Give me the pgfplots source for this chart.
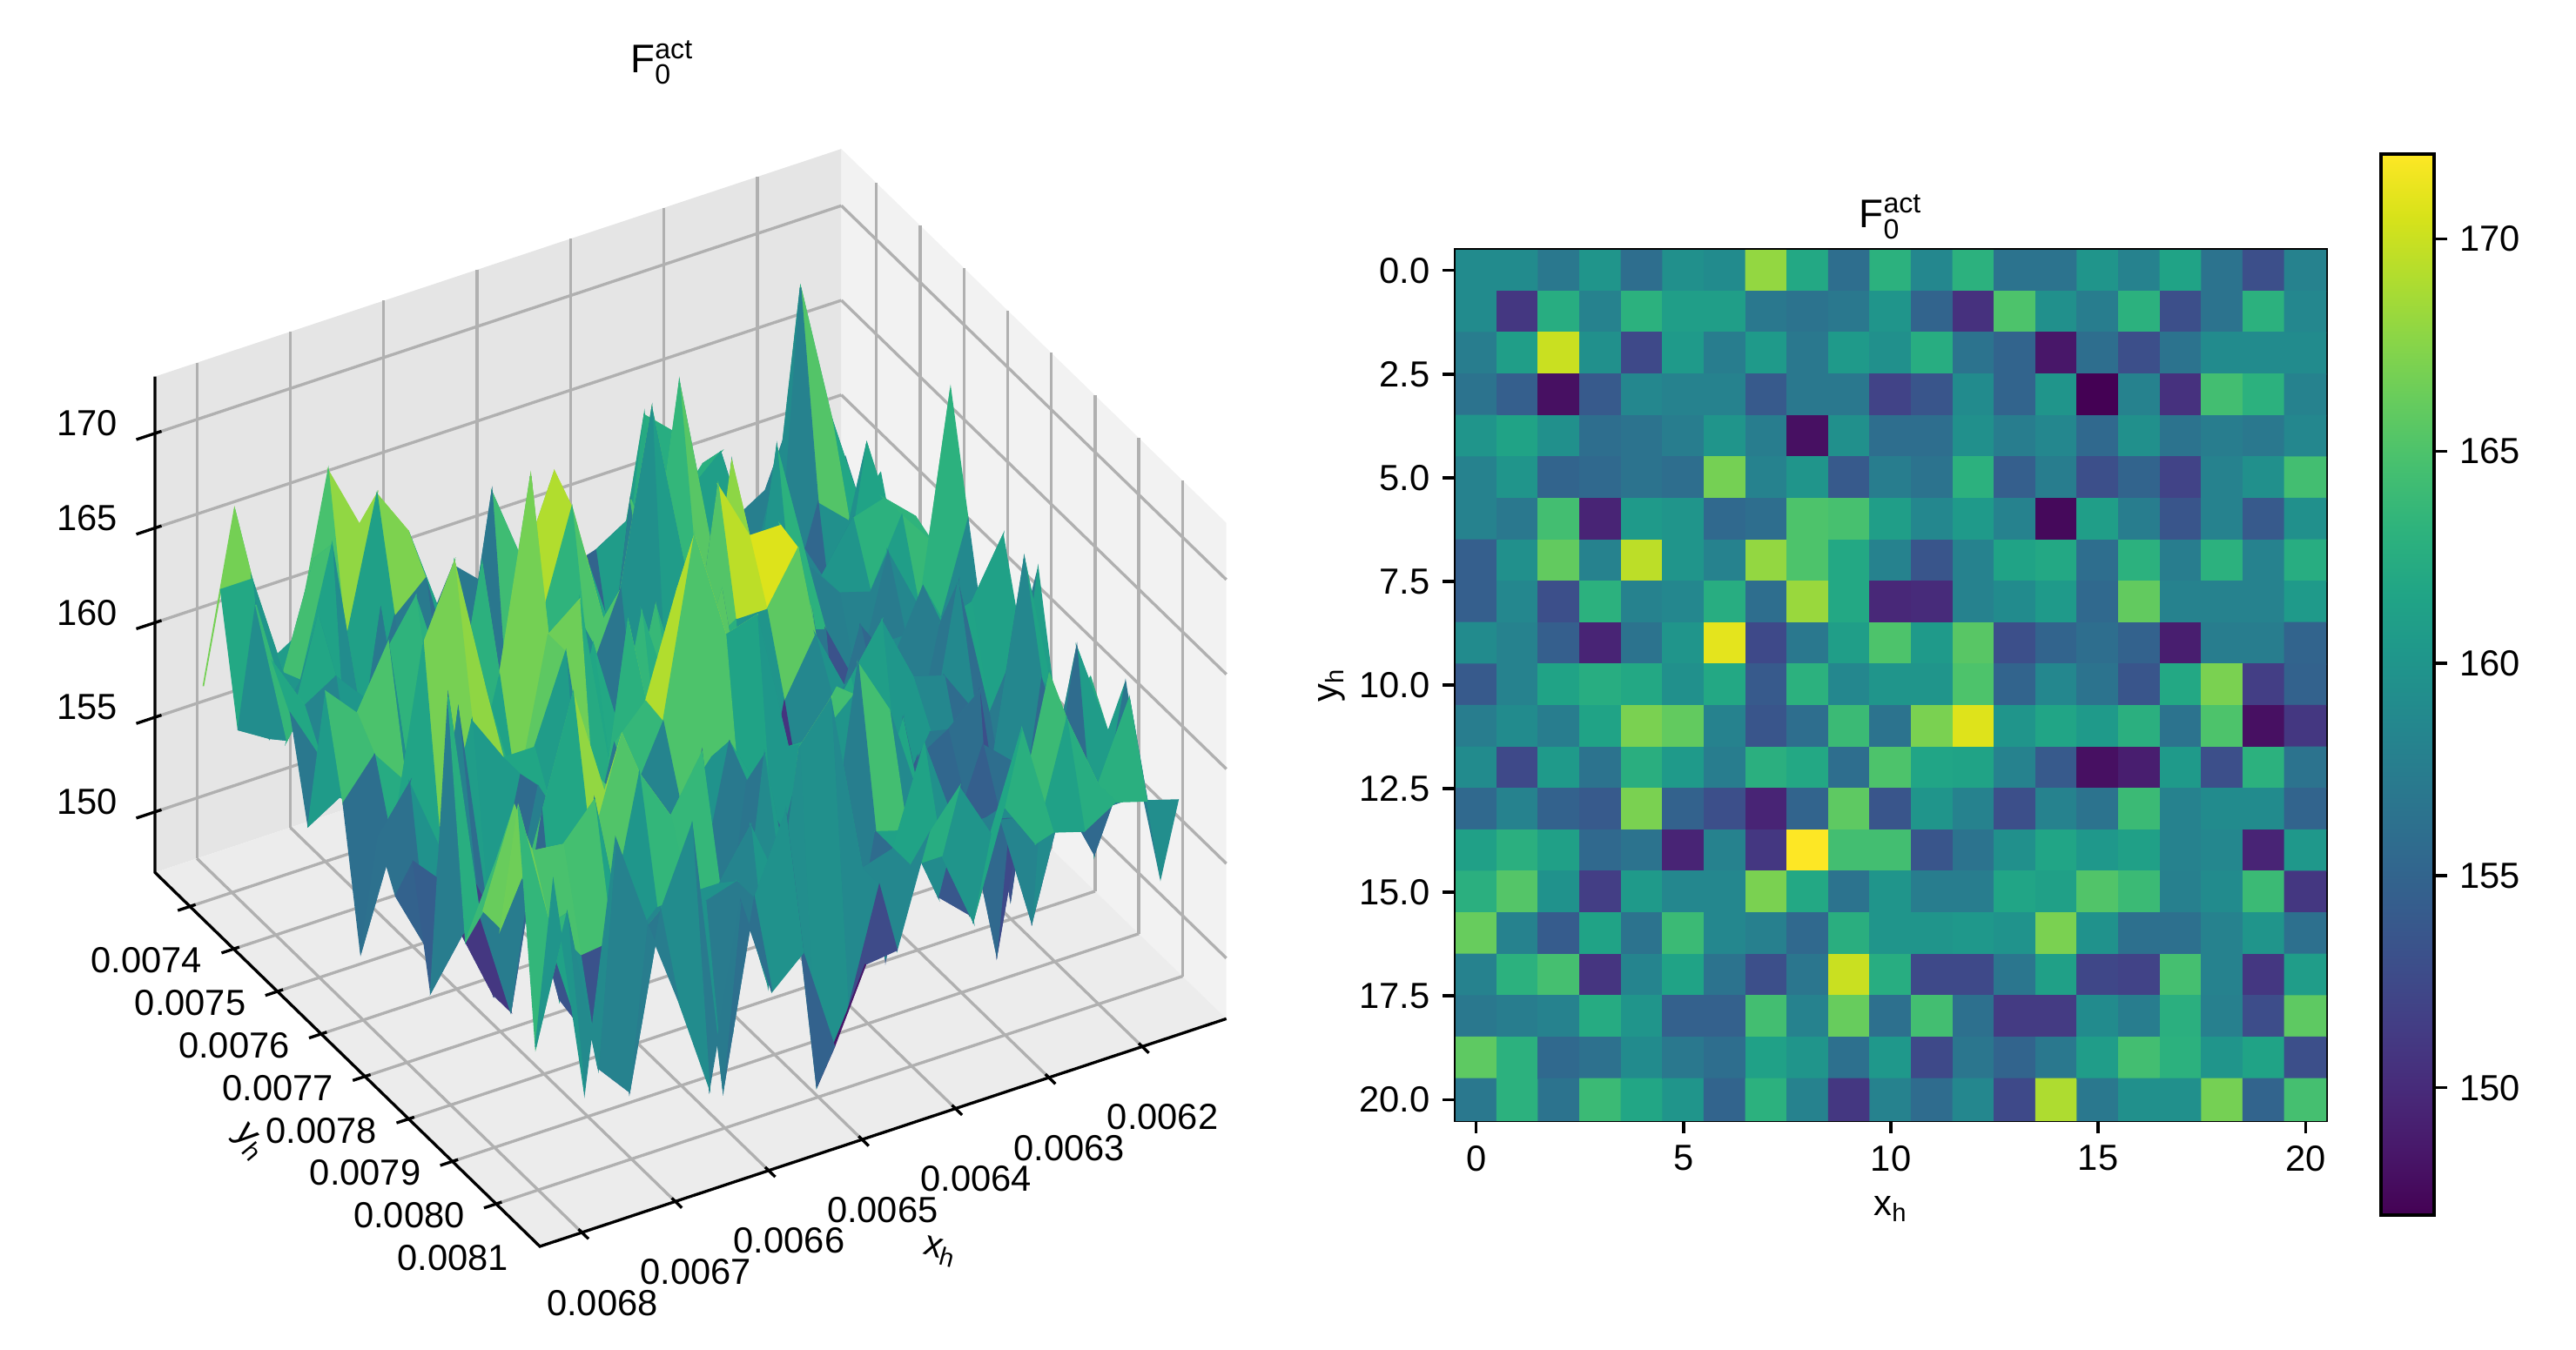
\documentclass[border=0pt]{standalone}
\usepackage{fontspec}
\setmainfont{Liberation Sans}
\setmathrm{Liberation Sans}
\usepackage{pgfplots}
\usepackage{pgfplotstable}
\pgfplotsset{compat=1.18}
\pgfplotstableread{
r c z
0 0 159
0 1 159
0 2 157
0 3 160
0 4 156
0 5 159.5
0 6 159
0 7 168
0 8 162
0 9 156
0 10 163
0 11 158.5
0 12 163
0 13 156.5
0 14 156.5
0 15 160
0 16 158
0 17 161.5
0 18 156.5
0 19 153
0 20 158
1 0 159
1 1 151
1 2 162.5
1 3 158
1 4 163
1 5 161
1 6 161
1 7 157
1 8 156.5
1 9 157
1 10 160
1 11 155
1 12 150.5
1 13 165
1 14 159.5
1 15 157.5
1 16 163
1 17 153
1 18 156.5
1 19 163
1 20 158.5
2 0 157.5
2 1 161
2 2 170
2 3 159.5
2 4 152.5
2 5 160.5
2 6 157.5
2 7 160.5
2 8 157
2 9 160.5
2 10 159.5
2 11 162.5
2 12 156.5
2 13 155
2 14 148.5
2 15 156
2 16 153
2 17 156.5
2 18 159
2 19 159
2 20 159
3 0 156.5
3 1 154.5
3 2 148
3 3 154
3 4 158.5
3 5 158
3 6 158
3 7 154
3 8 157
3 9 157
3 10 152
3 11 153.5
3 12 159
3 13 155
3 14 160
3 15 147
3 16 158
3 17 150.5
3 18 164.5
3 19 163
3 20 158
4 0 160
4 1 161.5
4 2 159.5
4 3 156
4 4 156.5
4 5 157.5
4 6 160
4 7 157.5
4 8 148
4 9 159.5
4 10 156
4 11 156
4 12 159.5
4 13 157.5
4 14 158.5
4 15 155.5
4 16 159.5
4 17 156.5
4 18 157.5
4 19 157
4 20 158.5
5 0 158
5 1 160
5 2 155
5 3 155.5
5 4 156.5
5 5 156
5 6 166.8
5 7 158
5 8 160
5 9 154
5 10 157.5
5 11 156.5
5 12 163
5 13 154.5
5 14 157.5
5 15 153
5 16 155
5 17 152
5 18 158
5 19 159.5
5 20 164.5
6 0 158
6 1 157
6 2 164.5
6 3 149.5
6 4 160.5
6 5 160
6 6 155.5
6 7 156
6 8 165
6 9 164.7
6 10 161
6 11 158.5
6 12 160.5
6 13 158
6 14 147.5
6 15 161
6 16 157.5
6 17 153.5
6 18 158
6 19 154
6 20 159.5
7 0 154.5
7 1 159.5
7 2 166
7 3 158
7 4 169.5
7 5 160
7 6 158
7 7 168
7 8 165
7 9 162
7 10 158
7 11 153.5
7 12 158
7 13 161.5
7 14 162
7 15 156
7 16 163
7 17 157.5
7 18 163
7 19 158
7 20 162.5
8 0 154.5
8 1 158.5
8 2 153
8 3 163
8 4 158
8 5 158.5
8 6 162.5
8 7 156
8 8 168.2
8 9 162
8 10 149.8
8 11 150
8 12 158
8 13 159
8 14 160.5
8 15 155.5
8 16 166
8 17 158
8 18 158
8 19 158
8 20 160.5
9 0 159
9 1 158
9 2 154.5
9 3 149.5
9 4 156.5
9 5 160
9 6 171
9 7 152.5
9 8 157
9 9 161
9 10 165
9 11 160.5
9 12 165.5
9 13 153
9 14 155
9 15 156
9 16 154.8
9 17 149
9 18 157.5
9 19 157.5
9 20 155
10 0 154
10 1 158
10 2 161.5
10 3 162.5
10 4 162
10 5 159.5
10 6 162
10 7 154
10 8 163
10 9 158.5
10 10 160
10 11 160
10 12 165
10 13 155
10 14 158.5
10 15 156.5
10 16 153.5
10 17 162
10 18 167
10 19 151.5
10 20 154.8
11 0 157.5
11 1 159
11 2 157.5
11 3 161.5
11 4 167
11 5 166
11 6 158
11 7 153.5
11 8 156
11 9 164
11 10 156.5
11 11 167
11 12 170.8
11 13 160
11 14 161.7
11 15 160.5
11 16 162.8
11 17 156.5
11 18 165
11 19 148
11 20 151
12 0 159
12 1 152.5
12 2 160.5
12 3 156.5
12 4 162.7
12 5 160.5
12 6 157.5
12 7 162.8
12 8 162
12 9 156
12 10 165
12 11 161.7
12 12 161.5
12 13 158
12 14 154
12 15 148
12 16 149
12 17 160.5
12 18 153
12 19 163
12 20 156.5
13 0 155.5
13 1 158
13 2 154.8
13 3 154
13 4 167
13 5 154.8
13 6 153
13 7 149.5
13 8 155
13 9 165.8
13 10 153.5
13 11 160
13 12 158
13 13 153
13 14 158
13 15 156.5
13 16 164
13 17 158
13 18 159
13 19 159
13 20 155
14 0 161.2
14 1 162.8
14 2 161.2
14 3 155.5
14 4 156.5
14 5 149.5
14 6 158
14 7 151
14 8 172
14 9 164.5
14 10 164.5
14 11 153.5
14 12 156.5
14 13 159.5
14 14 161.7
14 15 160.3
14 16 161.2
14 17 158
14 18 158.5
14 19 149.5
14 20 160.3
15 0 162.8
15 1 165.3
15 2 159.7
15 3 151.5
15 4 160.5
15 5 158.5
15 6 158.5
15 7 167
15 8 162
15 9 156.5
15 10 160
15 11 157.5
15 12 157.5
15 13 161.7
15 14 161.2
15 15 165.2
15 16 164
15 17 157.8
15 18 159
15 19 164
15 20 151
16 0 166.2
16 1 158
16 2 154.2
16 3 161.5
16 4 156.5
16 5 164
16 6 158.5
16 7 157.8
16 8 155.5
16 9 162.7
16 10 160
16 11 160
16 12 160.3
16 13 159.8
16 14 167
16 15 159.7
16 16 156.2
16 17 156.2
16 18 158
16 19 160
16 20 156.2
17 0 158
17 1 163
17 2 164.6
17 3 150.8
17 4 158.2
17 5 161.5
17 6 156.5
17 7 153
17 8 156.8
17 9 170
17 10 162.5
17 11 152.5
17 12 152.5
17 13 156.8
17 14 161.2
17 15 152.3
17 16 152
17 17 164.6
17 18 158
17 19 151
17 20 160.8
18 0 157
18 1 157.5
18 2 158
18 3 162.3
18 4 160
18 5 154.7
18 6 154.7
18 7 164.5
18 8 158
18 9 166.2
18 10 156.2
18 11 164.5
18 12 156.2
18 13 151.3
18 14 151.3
18 15 159
18 16 157.5
18 17 162.8
18 18 157.8
18 19 152.8
18 20 165.8
19 0 165.8
19 1 163
19 2 155.5
19 3 156.3
19 4 159
19 5 157
19 6 156
19 7 161.3
19 8 160
19 9 156.2
19 10 160.3
19 11 152.5
19 12 156.8
19 13 155
19 14 157
19 15 160.8
19 16 164.5
19 17 163
19 18 160
19 19 161.5
19 20 153
20 0 157
20 1 163
20 2 156.5
20 3 164
20 4 161.8
20 5 160
20 6 155
20 7 163
20 8 158
20 9 151
20 10 158
20 11 155.8
20 12 158.5
20 13 152.5
20 14 169
20 15 157
20 16 159.5
20 17 159.5
20 18 166.8
20 19 155
20 20 164.6
}\Fdata
\pgfplotsset{
  common/.style={
    /pgf/number format/assume math mode=true,
    tick label style={font=\fontsize{10}{12}\selectfont},
    label style={font=\fontsize{10}{12}\selectfont},
    title style={font=\fontsize{11}{13}\selectfont},
    major tick length=3.5pt,
    every tick/.style={black,line width=0.8pt},
    tick align=outside,
    colormap/viridis,
  }
}
\def\Xa{0.00611}\def\Xb{0.006845}\def\Ya{0.00732}\def\Yb{0.0082}\def\Za{146.8}\def\Zb{173}
\begin{document}
\begin{tikzpicture}
\path (0,0) rectangle (710.16pt,372.24pt);
% 3D surface
\begin{axis}[common,
  set layers,
  at={(42.72pt,28.56pt)},anchor=south west,
  scale only axis,width=296.4pt,height=303.4pt,
  view={149.7}{34.6},
  plot box ratio={219.6}{211.7}{166.2},
  xmin=\Xa,xmax=\Xb,ymin=\Ya,ymax=\Yb,zmin=\Za,zmax=\Zb,
  xtick={0.0062,0.0063,0.0064,0.0065,0.0066,0.0067,0.0068},
  ytick={0.0074,0.0075,0.0076,0.0077,0.0078,0.0079,0.008,0.0081},
  ztick={150,155,160,165,170},
  scaled x ticks=false,scaled y ticks=false,
  xticklabel style={/pgf/number format/fixed,/pgf/number format/precision=4,/pgf/number format/zerofill,xshift=0.7pt,yshift=-7.7pt},
  yticklabel style={/pgf/number format/fixed,/pgf/number format/precision=4,/pgf/number format/zerofill,xshift=-1.2pt},
  zticklabel style={xshift=-6.8pt,yshift=0pt},
  xtick pos=lower,ytick pos=lower,ztick pos=lower,
  major tick length=0pt,
  grid=major,
  grid style={color=black!31,line width=0.8pt},
  axis line style={draw=none},
  clip=false,
  point meta min=152,point meta max=164.5,
]
\begin{pgfonlayer}{axis background}
\fill[black!5] (axis cs:\Xa,\Ya,\Za)--(axis cs:\Xa,\Yb,\Za)--(axis cs:\Xa,\Yb,\Zb)--(axis cs:\Xa,\Ya,\Zb)--cycle;
\fill[black!10] (axis cs:\Xa,\Ya,\Za)--(axis cs:\Xb,\Ya,\Za)--(axis cs:\Xb,\Ya,\Zb)--(axis cs:\Xa,\Ya,\Zb)--cycle;
\fill[black!7.5] (axis cs:\Xa,\Ya,\Za)--(axis cs:\Xb,\Ya,\Za)--(axis cs:\Xb,\Yb,\Za)--(axis cs:\Xa,\Yb,\Za)--cycle;
\end{pgfonlayer}
\begin{pgfonlayer}{axis lines}
\draw[black,line width=0.8pt] (axis cs:\Xb,\Ya,\Zb)--(axis cs:\Xb,\Ya,\Za)--(axis cs:\Xb,\Yb,\Za)--(axis cs:\Xa,\Yb,\Za);
\pgfplotsinvokeforeach{0.0062,0.0063,0.0064,0.0065,0.0066,0.0067,0.0068}{
  \draw[black,line width=0.8pt] (axis cs:#1,0.008192,\Za)--(axis cs:#1,0.008215,\Za);}
\pgfplotsinvokeforeach{0.0074,0.0075,0.0076,0.0077,0.0078,0.0079,0.008,0.0081}{
  \draw[black,line width=0.8pt] (axis cs:0.006839,#1,\Za)--(axis cs:0.006858,#1,\Za);}
\pgfplotsinvokeforeach{150,155,160,165,170}{
  \draw[black,line width=0.8pt] (axis cs:0.006838,\Ya,#1)--(axis cs:0.006865,\Ya,#1);}
\end{pgfonlayer}
\addplot3[surf,shader=flat mean,z buffer=sort,mesh/rows=21,mesh/cols=21,mesh/ordering=y varies,point meta=\thisrow{z}]
  table[x expr=0.006143+0.00003345*\thisrow{r},y expr=0.00736+0.00004*\thisrow{c},z=z] {\Fdata};
\end{axis}
% heatmap
\begin{axis}[common,
  at={(401.28pt,63.36pt)},anchor=south west,
  scale only axis,width=240pt,height=240pt,
  xmin=-0.5,xmax=20.5,ymin=-0.5,ymax=20.5,y dir=reverse,
  xtick={0,5,10,15,20},
  ytick={0,2.5,5,7.5,10,12.5,15,17.5,20},
  yticklabels={0.0,2.5,5.0,7.5,10.0,12.5,15.0,17.5,20.0},
  xtick pos=lower,xticklabel pos=lower,ytick pos=left,
  axis line style={line width=0.8pt},
  title={$\mathrm{F}_{\mathrm{0}}^{\mathrm{act}}$},
  title style={yshift=-6.5pt},
  xlabel={x$_{\mathrm{h}}$},ylabel={y$_{\mathrm{h}}$},
  ylabel style={yshift=-3pt},
  point meta min=147,point meta max=172,
  enlargelimits=false,
  colorbar,
  colorbar style={at={(1.063,-0.109)},anchor=south west,width=14.64pt,height=292.56pt,
     ytick={150,155,160,165,170},y dir=normal,ytick pos=right,yticklabel pos=right,
     /pgf/number format/assume math mode=true,
     tick label style={font=\fontsize{10}{12}\selectfont},
     every tick/.style={black,line width=0.8pt},major tick length=3.5pt,tick align=outside,
     axis line style={line width=0.8pt}},
]
\addplot[matrix plot*,mesh/cols=21,mesh/rows=21,point meta=\thisrow{z}]
  table[x=c,y=r] {\Fdata};
\end{axis}
\node[font=\fontsize{11}{13}\selectfont] at (182.6pt,355pt) {$\mathrm{F}_{\mathrm{0}}^{\mathrm{act}}$};
\node[font=\fontsize{10}{12}\selectfont,rotate=-15] at (259.2pt,27.1pt) {x$_{\mathrm{h}}$};
\node[font=\fontsize{10}{12}\selectfont,rotate=-50] at (68.7pt,57pt) {y$_{\mathrm{h}}$};
\end{tikzpicture}
\end{document}
